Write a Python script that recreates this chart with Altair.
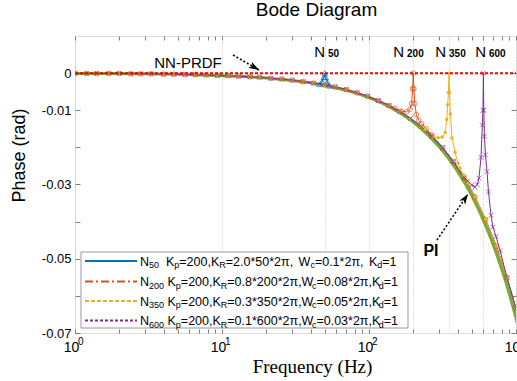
import altair as alt
import pandas as pd

# ---------------- data ----------------
# common response that the resonant controllers follow away from their peaks
base_freq = [1, 1.2, 1.4, 1.7, 2, 2.4, 2.8, 3.3, 4, 4.7, 5.6, 6.6, 7.8, 9.3, 11, 13, 15.5, 18,
             21.5, 25.5, 30, 35.5, 42, 50, 59, 70, 83, 98, 116, 137, 162, 192, 227, 268, 317,
             375, 444, 525, 620, 734, 868, 1000, 1060]
base_phase = [-0.0001, -0.0001, -0.0001, -0.0001, -0.0001, -0.0002, -0.0002, -0.0002, -0.0003,
              -0.0003, -0.0004, -0.0004, -0.0005, -0.0006, -0.0007, -0.0008, -0.0010, -0.0011,
              -0.0014, -0.0016, -0.0019, -0.0023, -0.0027, -0.0032, -0.0037, -0.0044, -0.0053,
              -0.0062, -0.0074, -0.0087, -0.0103, -0.0122, -0.0144, -0.0170, -0.0201, -0.0238,
              -0.0282, -0.0333, -0.0394, -0.0466, -0.0551, -0.0635, -0.0673]

pi_freq = [1, 2, 3, 5, 7, 10, 15, 20, 30, 40, 50, 60, 70, 85, 100, 120, 140, 160, 180, 200, 230,
           260, 300, 350, 400, 450, 500, 550, 600, 650, 700, 750, 800, 850, 900, 950, 1000, 1060]
pi_phase = [-0.0001, -0.0001, -0.0002, -0.0003, -0.0005, -0.0007, -0.0010, -0.0013, -0.0020,
            -0.0026, -0.0033, -0.0040, -0.0046, -0.0056, -0.0066, -0.0079, -0.0092, -0.0106,
            -0.0119, -0.0132, -0.0152, -0.0172, -0.0198, -0.0231, -0.0264, -0.0297, -0.0330,
            -0.0363, -0.0396, -0.0429, -0.0462, -0.0495, -0.0528, -0.0561, -0.0594, -0.0627,
            -0.0660, -0.0700]

n50_freq = [46, 48, 49.2, 50, 50.8, 52, 54]
n50_phase = [-0.0030, -0.0022, -0.0011, 0.0, -0.0011, -0.0024, -0.0034]

n200_freq = [150, 165, 180, 190, 195, 198, 200, 202, 205, 210, 218, 228, 245, 265]
n200_phase = [-0.0095, -0.0102, -0.0104, -0.0097, -0.0082, -0.0042, 0.0, -0.0042, -0.0082,
              -0.0112, -0.0127, -0.0137, -0.0150, -0.0166]

n350_freq = [240, 272, 295, 315, 330, 338, 343, 347, 350, 353, 358, 367, 385, 403, 416, 440, 470]
n350_phase = [-0.0152, -0.0172, -0.0174, -0.0172, -0.0160, -0.0125, -0.0085, -0.0052, 0.0,
              -0.0052, -0.0110, -0.0175, -0.0213, -0.0243, -0.0256, -0.0275, -0.0295]

n600_freq = [470, 500, 526, 545, 560, 578, 590, 596, 600, 604, 610, 620, 635, 650, 676, 697, 731, 780]
n600_phase = [-0.0290, -0.0302, -0.0307, -0.0300, -0.0283, -0.0227, -0.0140, -0.0100, 0.0,
              -0.0100, -0.0170, -0.0220, -0.0265, -0.0320, -0.0383, -0.0415, -0.0440, -0.0478]

prdf_freq = [1, 1000]
prdf_phase = [0.0, 0.0]

series_names = ["N50", "N200", "N350", "N600"]
peak_labels = ["50", "200", "350", "600"]
peak_label_freq = [51.0, 175.8, 339.4, 634.9]

decade_ticks = [1, 10, 100, 1000]
decade_exponents = ["0", "1", "2", "3"]

legend_segments = [
    [("N", "m"), ("50", "s"), ("  K", "m"), ("p", "s"), ("=200,K", "m"), ("R", "s"),
     ("=2.0*50*2π,", "m"), ("  W", "m"), ("c", "s"), ("=0.1*2π,", "m"), ("  K", "m"),
     ("d", "s"), ("=1", "m")],
    [("N", "m"), ("200", "s"), (" K", "m"), ("p", "s"), ("=200,K", "m"), ("R", "s"),
     ("=0.8*200*2π,W", "m"), ("c", "s"), ("=0.08*2π,K", "m"), ("d", "s"), ("=1", "m")],
    [("N", "m"), ("350", "s"), (" K", "m"), ("p", "s"), ("=200,K", "m"), ("R", "s"),
     ("=0.3*350*2π,W", "m"), ("c", "s"), ("=0.05*2π,K", "m"), ("d", "s"), ("=1", "m")],
    [("N", "m"), ("600", "s"), (" K", "m"), ("p", "s"), ("=200,K", "m"), ("R", "s"),
     ("=0.1*600*2π,W", "m"), ("c", "s"), ("=0.03*2π,K", "m"), ("d", "s"), ("=1", "m")],
]

# ---------------- styling / layout ----------------
W, H = 441, 297
XMIN, XMAX = 1, 1000
YMIN, YMAX = -0.07, 0.01
BLUE, ORANGE, YELLOW, PURPLE, GREEN = "#0072BD", "#D95319", "#EDB120", "#7E2F8E", "#77AC30"
RED = "#F00000"
GRAY = "#808080"
FONT = "Liberation Sans"


def px2f(xr):
    return 10 ** (3.0 * xr / W)


def py2v(yr):
    return YMAX - yr / H * (YMAX - YMIN)


xscale = alt.Scale(type="log", domain=[XMIN, XMAX], nice=False)
yscale = alt.Scale(domain=[YMIN, YMAX], nice=False, zero=False)
Xn = alt.X("f:Q", scale=xscale, axis=None)
Yn = alt.Y("v:Q", scale=yscale, axis=None)


def build_series(pf, pp):
    lo, hi = min(pf), max(pf)
    pts = [(f, v) for f, v in zip(base_freq, base_phase) if f < lo or f > hi]
    pts += list(zip(pf, pp))
    pts.sort()
    return pd.DataFrame(pts, columns=["f", "v"])


pi_df = pd.DataFrame({"f": pi_freq, "v": pi_phase})
n50_df = build_series(n50_freq, n50_phase)
n50_peak_df = pd.DataFrame({"f": n50_freq, "v": n50_phase})
n200_df = build_series(n200_freq, n200_phase)
n350_df = build_series(n350_freq, n350_phase)
n600_df = build_series(n600_freq, n600_phase)
prdf_df = pd.DataFrame({"f": prdf_freq, "v": prdf_phase})

# ---------------- main axis layer (PI curve carries the labelled axes) ----------------
x_label_expr = ("(datum.value == 1 || datum.value == 10 || datum.value == 100 || "
                "datum.value == 1000) ? '10' : ''")
y_label_expr = ("abs(datum.value) < 1e-9 ? '0' : (abs(round(datum.value*100)) % 2 == 1 ? "
                "'-' + format(abs(datum.value), '.2f') : '')")
y_vals = [-0.07, -0.06, -0.05, -0.04, -0.03, -0.02, -0.01, 0.0]
x_minor = [1, 2, 3, 4, 5, 6, 7, 8, 9, 10, 20, 30, 40, 50, 60, 70, 80, 90,
           100, 200, 300, 400, 500, 600, 700, 800, 900, 1000]

pi_layer = alt.Chart(pi_df).mark_line(color=GREEN, strokeWidth=3, clip=True).encode(
    x=alt.X("f:Q", scale=xscale, axis=alt.Axis(
        values=[1, 10, 50, 100, 200, 350, 600, 1000], labelExpr=x_label_expr,
        ticks=False, tickSize=0, domain=False, grid=True, gridDash=[1, 2],
        gridColor="#c4c4c4", gridWidth=1, labelOverlap=False, labelFont=FONT,
        labelFontSize=14, labelColor="black", labelPadding=7, labelFlush=False,
        labelOffset=-4,
        title="Frequency  (Hz)", titleFont="Liberation Serif", titleFontSize=19,
        titleFontWeight="normal", titleColor="black", titleX=237, titleY=33,
        titleBaseline="middle", titleAlign="center")),
    y=alt.Y("v:Q", scale=yscale, axis=alt.Axis(
        values=y_vals, labelExpr=y_label_expr, ticks=False, tickSize=0, domain=False,
        grid=False, labelFont=FONT, labelFontSize=13, labelColor="black", labelPadding=4,
        labelOverlap=False, title="Phase (rad)", titleFont=FONT, titleFontSize=18,
        titleFontWeight="normal", titleColor="black", titleX=-56, titleY=119,
        titleAngle=270, titleBaseline="middle", titleAlign="center")),
)

# exponents of the decade labels (10^k)
exp_df = pd.DataFrame({"f": decade_ticks, "v": [py2v(H + 4)] * 4, "t": decade_exponents})
exp_text = alt.Chart(exp_df).mark_text(font=FONT, fontSize=10, color="black", align="left",
                                       baseline="top", dx=3).encode(x=Xn, y=Yn, text="t:N")

# inward tick marks on all four sides
ticks_a = alt.Chart(pi_df).mark_line(opacity=0).encode(
    x=alt.X("f:Q", scale=xscale, axis=alt.Axis(
        orient="top", offset=-H, values=x_minor, labels=False, tickSize=4,
        tickColor=GRAY, domain=False, grid=False, title=None)),
    y=alt.Y("v:Q", scale=yscale, axis=alt.Axis(
        orient="right", offset=-W, values=y_vals, labels=False, tickSize=5,
        tickColor=GRAY, domain=False, grid=False, title=None)),
)
ticks_b = alt.Chart(pi_df).mark_line(opacity=0).encode(
    x=alt.X("f:Q", scale=xscale, axis=alt.Axis(
        orient="bottom", offset=-H, values=x_minor, labels=False, tickSize=4,
        tickColor=GRAY, domain=False, grid=False, title=None)),
    y=alt.Y("v:Q", scale=yscale, axis=alt.Axis(
        orient="left", offset=-W, values=y_vals, labels=False, tickSize=5,
        tickColor=GRAY, domain=False, grid=False, title=None)),
)

# ---------------- resonant controller curves ----------------
XMARK = "M-1,-1L1,1M-1,1L1,-1"


def curve(df, color, width=1):
    return alt.Chart(df).mark_line(color=color, strokeWidth=width, clip=True).encode(x=Xn, y=Yn)


n50_line = curve(n50_df, BLUE, 1.2)
n50_pts = alt.Chart(n50_peak_df).mark_point(shape="triangle-up", filled=False, color=BLUE,
                                           size=30, strokeWidth=1, clip=True).encode(x=Xn, y=Yn)
n200_line = curve(n200_df, ORANGE)
n200_pts = alt.Chart(n200_df).mark_point(shape="circle", filled=False, color=ORANGE,
                                        size=22, strokeWidth=1, clip=True).encode(x=Xn, y=Yn)
n350_line = curve(n350_df, YELLOW)
n350_pts = alt.Chart(n350_df).mark_point(shape="circle", filled=True, color=YELLOW,
                                        size=12, opacity=1, clip=True).encode(x=Xn, y=Yn)
n600_line = curve(n600_df, PURPLE)
n600_pts = alt.Chart(n600_df).mark_point(shape=XMARK, filled=False, color=PURPLE,
                                        size=22, strokeWidth=1, clip=True).encode(x=Xn, y=Yn)

prdf_line = alt.Chart(prdf_df).mark_line(color=RED, strokeWidth=2, strokeDash=[3, 2],
                                         clip=True).encode(x=Xn, y=Yn)

# ---------------- annotations ----------------
HEAD = "M0,0L0.75,2.2L0,1.6L-0.75,2.2Z"
arrow1_df = pd.DataFrame({"f": [11.88, 17.85], "v": [0.00488, 0.00084]})
arrow2_df = pd.DataFrame({"f": [290.0, 471.6], "v": [-0.04495, -0.03256]})


def arrow(df, ang):
    line = alt.Chart(df).mark_line(color="black", strokeWidth=1.5,
                                   strokeDash=[2, 2]).encode(x=Xn, y=Yn)
    head = alt.Chart(df.iloc[[1]]).mark_point(shape=HEAD, filled=True, color="black",
                                               size=90, angle=ang, opacity=1).encode(x=Xn, y=Yn)
    return line + head


arrow1 = arrow(arrow1_df, 120)
arrow2 = arrow(arrow2_df, 34)

ann_df = pd.DataFrame({"f": [5.87], "v": [0.00273], "t": ["NN-PRDF"]})
ann1 = alt.Chart(ann_df).mark_text(font=FONT, fontSize=15, color="black", align="center",
                                   baseline="middle").encode(x=Xn, y=Yn, text="t:N")
pi_txt_df = pd.DataFrame({"f": [264.1], "v": [-0.04791], "t": ["PI"]})
ann2 = alt.Chart(pi_txt_df).mark_text(font=FONT, fontSize=16, fontWeight="bold", color="black",
                                      align="center", baseline="middle").encode(
    x=Xn, y=Yn, text="t:N")

peak_df = pd.DataFrame({"f": peak_label_freq, "v": [0.00434] * 4, "n": ["N"] * 4,
                        "s": peak_labels})
peak_n = alt.Chart(peak_df).mark_text(font=FONT, fontSize=15, color="black", align="right",
                                      baseline="alphabetic", dx=-1).encode(x=Xn, y=Yn, text="n:N")
peak_s = alt.Chart(peak_df).mark_text(font=FONT, fontSize=10, fontWeight="bold", color="black",
                                      align="left", baseline="alphabetic", dx=2).encode(
    x=Xn, y=Yn, text="s:N")

# ---------------- legend (drawn inside the plot area) ----------------
AW = {" ": 278, ",": 278, ".": 278, "*": 389, "=": 584, "K": 667, "N": 722, "W": 944,
      "R": 722, "p": 556, "c": 500, "d": 556, "π": 570}
for _d in "0123456789":
    AW[_d] = 556


def tw(s, fs):
    return sum(AW.get(ch, 556) for ch in s) * fs / 1000.0


FS_M, FS_S = 12.5, 9
row_y = [225, 245.5, 265, 284.5]
seg_rows = []
for i, segs in enumerate(legend_segments):
    cx = 65.0
    for txt, kind in segs:
        fs = FS_M if kind == "m" else FS_S
        lead = len(txt) - len(txt.lstrip(" "))
        x0 = cx + tw(" " * lead, fs)
        yb = row_y[i] + 4.5 + (2.5 if kind == "s" else 0)
        seg_rows.append({"f": px2f(x0), "v": py2v(yb), "t": txt.strip(), "fs": fs})
        cx += tw(txt, fs)
seg_df = pd.DataFrame(seg_rows)

box_df = pd.DataFrame({"f": [px2f(6)], "f2": [px2f(333)], "v": [py2v(216)], "v2": [py2v(292)]})
legend_box = alt.Chart(box_df).mark_rect(fill="white", stroke="#999999", strokeWidth=1).encode(
    x=Xn, x2="f2:Q", y=Yn, y2="v2:Q")

legline_df = pd.DataFrame({"name": series_names, "f": [px2f(10)] * 4, "f2": [px2f(62)] * 4,
                           "v": [py2v(y) for y in row_y]})
legend_lines = alt.Chart(legline_df).mark_rule(strokeWidth=2).encode(
    x=Xn, x2="f2:Q", y=Yn,
    color=alt.Color("name:N", scale=alt.Scale(domain=series_names,
                                              range=[BLUE, ORANGE, YELLOW, PURPLE]), legend=None),
    strokeDash=alt.StrokeDash("name:N", scale=alt.Scale(
        domain=series_names, range=[[1, 0], [8, 3, 2, 3], [4, 2], [3, 2]]), legend=None),
)
legend_text = alt.Chart(seg_df).mark_text(font=FONT, color="black", align="left",
                                          baseline="alphabetic").encode(
    x=Xn, y=Yn, text="t:N", size=alt.Size("fs:Q", scale=None, legend=None))

# ---------------- assemble ----------------
chart = alt.layer(
    pi_layer, ticks_a, ticks_b,
    n50_line, n200_line, n350_line, n600_line,
    n50_pts, n200_pts, n350_pts, n600_pts,
    prdf_line,
    arrow1, arrow2, ann1, ann2, peak_n, peak_s, exp_text,
    legend_box, legend_lines, legend_text,
).resolve_axis(x="independent", y="independent").properties(
    width=W, height=H,
    title=alt.TitleParams("Bode Diagram", font=FONT, fontSize=19, fontWeight="normal",
                          color="black", anchor="middle", dx=21, dy=15, offset=22,
                          baseline="middle"),
    autosize=alt.AutoSizeParams(type="none"),
    padding={"left": 75, "top": 36, "right": 1, "bottom": 48},
).configure_view(stroke=GRAY, strokeWidth=1).configure(background="white")

chart.save("out.html", embed_options={"renderer": "svg", "actions": False})
